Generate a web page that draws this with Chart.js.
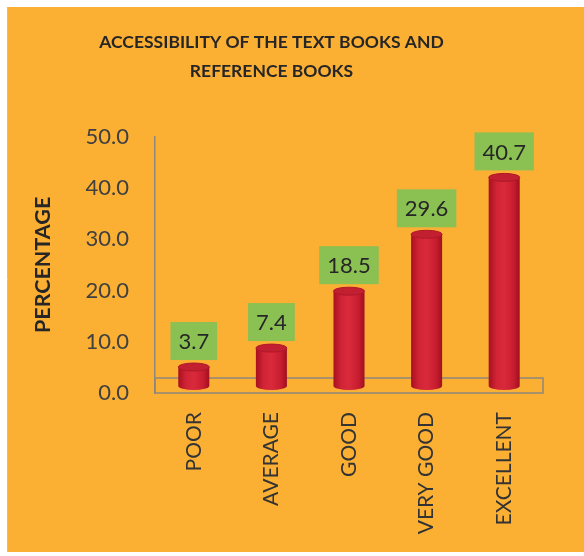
<!DOCTYPE html>
<html>
<head>
<meta charset="utf-8">
<script src="https://cdn.jsdelivr.net/npm/chart.js@4"></script>
<style>
  html, body { margin: 0; padding: 0; background: #ffffff; }
  #wrap { width: 584px; height: 556px; position: relative; }
</style>
</head>
<body>
<div id="wrap"><canvas id="c" width="584" height="556"></canvas></div>
<script>
const titleLines = ["ACCESSIBILITY OF THE TEXT BOOKS AND", "REFERENCE BOOKS"];
const categories = ["POOR", "AVERAGE", "GOOD", "VERY GOOD", "EXCELLENT"];
const percentages = [3.7, 7.4, 18.5, 29.6, 40.7];
const yTicks = [0, 10, 20, 30, 40, 50];
const yAxisTitle = "PERCENTAGE";

const FONT = "Lato";
const ORANGE = "#FBB034";
const GREEN = "#8BC053";
const DEPTH = 7;

const backgroundPlugin = {
  id: "bg",
  beforeDraw(chart) {
    const ctx = chart.ctx;
    ctx.save();
    ctx.fillStyle = "#ffffff";
    ctx.fillRect(0, 0, chart.width, chart.height);
    ctx.fillStyle = ORANGE;
    ctx.fillRect(8, 7, chart.width - 8, chart.height - 11);
    ctx.strokeStyle = "#c8c0b8";
    ctx.lineWidth = 1;
    ctx.beginPath();
    ctx.moveTo(7.5, 7);
    ctx.lineTo(7.5, chart.height - 4);
    ctx.stroke();
    ctx.restore();
  }
};

const floorPlugin = {
  id: "floor",
  beforeDatasetsDraw(chart) {
    const ctx = chart.ctx;
    const a = chart.chartArea;
    ctx.save();
    ctx.strokeStyle = "#8f877c";
    ctx.lineWidth = 1.5;
    ctx.strokeRect(a.left, a.bottom - 2 * DEPTH - 1, a.right - a.left, 2 * DEPTH + 1);
    ctx.restore();
  }
};

const cylinderPlugin = {
  id: "cyl",
  afterDatasetsDraw(chart) {
    const ctx = chart.ctx;
    const meta = chart.getDatasetMeta(0);
    const ds = chart.data.datasets[0];
    ctx.save();
    meta.data.forEach((bar, i) => {
      const p = bar.getProps(["x", "y", "base", "width"], true);
      const w = p.width;
      const x0 = p.x - w / 2, x1 = p.x + w / 2;
      const top = p.y - DEPTH, base = p.base - DEPTH;
      const ry = 4;
      const g = ctx.createLinearGradient(x0, 0, x1, 0);
      g.addColorStop(0, "#a8101f");
      g.addColorStop(0.25, "#d02436");
      g.addColorStop(0.5, "#d92a3b");
      g.addColorStop(0.8, "#c81d30");
      g.addColorStop(1, "#a0101e");
      ctx.fillStyle = g;
      ctx.beginPath();
      ctx.moveTo(x0, top);
      ctx.lineTo(x0, base);
      ctx.ellipse(p.x, base, w / 2, ry, 0, Math.PI, 0, true);
      ctx.lineTo(x1, top);
      ctx.closePath();
      ctx.fill();
      ctx.fillStyle = "#c21f31";
      ctx.beginPath();
      ctx.ellipse(p.x, top, w / 2, ry, 0, 0, Math.PI * 2);
      ctx.fill();
      ctx.strokeStyle = "#b01828";
      ctx.lineWidth = 1;
      ctx.stroke();

      const txt = ds.data[i].toFixed(1);
      ctx.font = "22px " + FONT;
      const tw = ctx.measureText(txt).width;
      const bw = tw + 16, bh = 38;
      const bx = p.x - bw / 2, by = top - ry - 3 - bh;
      ctx.fillStyle = GREEN;
      ctx.fillRect(bx, by, bw, bh);
      ctx.fillStyle = "#262626";
      ctx.textAlign = "center";
      ctx.textBaseline = "middle";
      ctx.fillText(txt, p.x, by + bh / 2 + 1);
    });
    ctx.restore();
  }
};

new Chart(document.getElementById("c"), {
  type: "bar",
  data: {
    labels: categories,
    datasets: [{
      data: percentages,
      backgroundColor: "rgba(0,0,0,0)",
      borderWidth: 0,
      categoryPercentage: 1,
      barPercentage: 0.4
    }]
  },
  options: {
    responsive: false,
    animation: false,
    devicePixelRatio: 1,
    layout: { padding: { left: 0, right: 41, top: 0, bottom: 0 } },
    plugins: {
      legend: { display: false },
      tooltip: { enabled: false },
      title: {
        display: true,
        text: titleLines,
        color: "#262626",
        font: { family: FONT, size: 17.5, weight: "bold", lineHeight: 1.65 },
        padding: { top: 28, bottom: 51 }
      }
    },
    scales: {
      x: {
        grid: { display: false, drawTicks: false },
        border: { display: false },
        ticks: {
          color: "#333333",
          font: { family: FONT, size: 21 },
          minRotation: 90,
          maxRotation: 90,
          padding: 19,
          autoSkip: false
        },
        afterFit(scale) { scale.height = 163; }
      },
      y: {
        min: 0,
        max: 50,
        afterBuildTicks(scale) { scale.ticks = yTicks.map(v => ({ value: v })); },
        grid: { display: false, drawTicks: false },
        border: { display: true, color: "#8f877c", width: 1.5 },
        ticks: {
          color: "#404040",
          font: { family: FONT, size: 22 },
          padding: 26,
          callback: v => Number(v).toFixed(1)
        },
        title: {
          display: true,
          text: yAxisTitle,
          color: "#262626",
          font: { family: FONT, size: 21.5, weight: "bold" },
          padding: { top: 30, bottom: 0 }
        },
        afterFit(scale) { scale.width = 155; }
      }
    }
  },
  plugins: [backgroundPlugin, floorPlugin, cylinderPlugin]
});
</script>
</body>
</html>
